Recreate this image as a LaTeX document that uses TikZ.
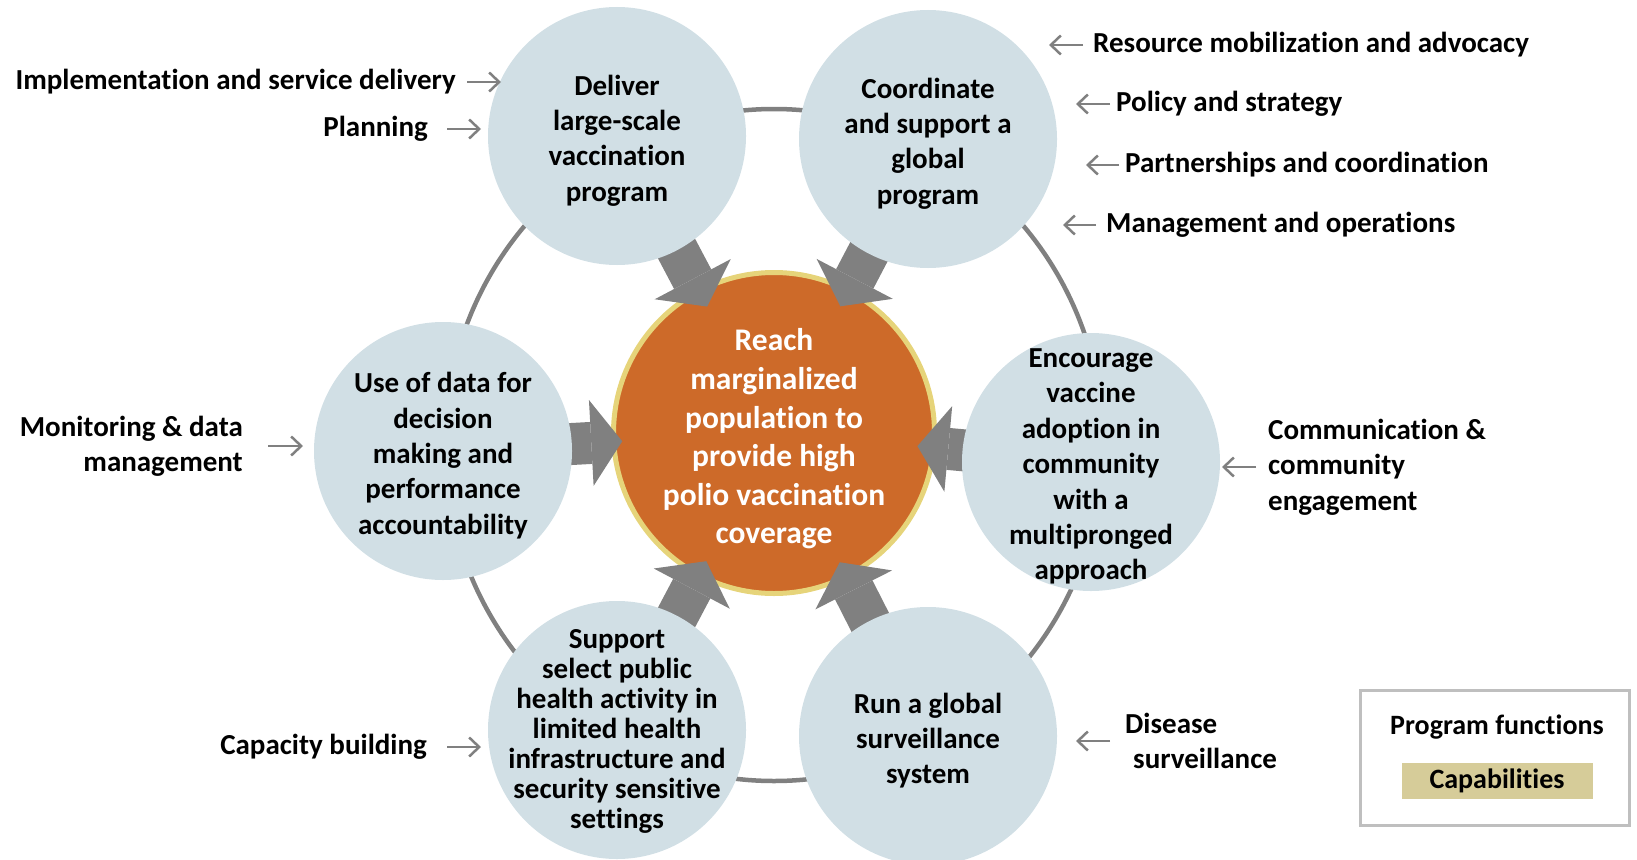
\documentclass[tikz,border=0pt]{standalone}
\usepackage{fontspec}
\setmainfont{Carlito}[Ligatures=NoCommon]
\usetikzlibrary{positioning,calc,arrows.meta}

\definecolor{bubblefill}{RGB}{209,223,229}
\definecolor{hubfill}{RGB}{205,106,41}
\definecolor{hubrim}{RGB}{230,212,122}
\definecolor{arrowgray}{RGB}{128,128,128}
\definecolor{capfill}{RGB}{214,204,153}
\definecolor{boxgray}{RGB}{191,191,191}

\pgfdeclarelayer{ring}
\pgfdeclarelayer{spokes}
\pgfsetlayers{ring,spokes,main}

\begin{document}
\begin{tikzpicture}[
  x=1pt, y=-1pt,
  bubble/.style={
        circle,
        fill=bubblefill,
        minimum size=258pt,
        inner sep=0pt
  },
  bubbletext/.style={
        inner sep=0pt,
        align=center,
        font=\fontsize{29}{35.4}\selectfont\bfseries
  },
  hubnode/.style={
        circle,
        fill=hubfill,
        draw=hubrim,
        line width=5pt,
        minimum size=321pt,
        inner sep=0pt
  },
  hubtext/.style={
        inner sep=0pt,
        align=center,
        text=white,
        font=\fontsize{31.5}{38.6}\selectfont\bfseries
  },
  sidetext/.style={
        inner sep=0pt,
        font=\fontsize{29}{35.4}\selectfont\bfseries
  },
  spoke/.style={
        draw=arrowgray,
        line width=42pt,
        -{Triangle[length=31pt,width=86pt,line width=0pt]}
  },
  sidearrow/.style={
        draw=arrowgray,
        line width=2.5pt,
        -{Straight Barb[length=10pt,width=19pt]}
  }
]

    \useasboundingbox (0,0) rectangle (1637,859);

    % ring and hub
    \begin{pgfonlayer}{ring}
    \draw[arrowgray, line width=4.5pt] (774,445) ellipse [x radius=329, y radius=336];
    \node[hubnode] (hub) at (774,433) {};
    \end{pgfonlayer}
    \node[hubtext] (goal) at ([yshift=-6pt]hub.center) {Reach\\marginalized\\population to\\provide high\\polio vaccination\\coverage};

    % program functions
    \node[bubble] (deliver) at (617,136) {};
    \node[bubble] (coord) at (928,139) {};
    \node[bubble] (usedata) at (443,451) {};
    \node[bubble] (encourage) at (1091,462) {};
    \node[bubble] (support) at (617,730) {};
    \node[bubble] (surveil) at (928,736) {};

    \node[bubbletext] (deliver-text) at ([yshift=-4.5pt]deliver.center) {Deliver\\large-scale\\vaccination\\program};
    \node[bubbletext] (coord-text) at ([yshift=-4.5pt]coord.center) {Coordinate\\and support a\\global\\program};
    \node[bubbletext] (usedata-text) at ([yshift=-4.5pt]usedata.center) {Use of data for\\decision\\making and\\performance\\accountability};
    \node[bubbletext] (encourage-text) at ([yshift=-4.5pt]encourage.center) {Encourage\\vaccine\\adoption in\\community\\with a\\multipronged\\approach};
    \node[bubbletext, font=\fontsize{29}{30}\selectfont\bfseries] (support-text) at ([yshift=-1pt]support.center) {Support\\select public\\health activity in\\limited health\\infrastructure and\\security sensitive\\settings};
    \node[bubbletext] (surveil-text) at ([yshift=-4.5pt]surveil.center) {Run a global\\surveillance\\system};

    \begin{pgfonlayer}{spokes}
    \foreach \n/\d in {deliver/143,coord/143,usedata/152,encourage/144,support/145,surveil/145}
        \draw[spoke] (\n.center) -- ($(hub.center)!\d pt!(\n.center)$);
    \end{pgfonlayer}

    % capabilities, left side
    \node[sidetext, anchor=east] (impl) at (456,82) {Implementation and service delivery};
    \node[sidetext, anchor=east] (plan) at (428,129) {Planning};
    \node[sidetext, anchor=east, align=right] (monitor) at (243,446) {Monitoring \& data\\management};
    \node[sidetext, anchor=east] (capacity) at (427,747) {Capacity building};

    \coordinate (impl-tip) at (501,82);
    \coordinate (plan-tip) at (481,129);
    \coordinate (monitor-tip) at (303,446);
    \coordinate (capacity-tip) at (481,747);

    % capabilities, right side
    \node[sidetext, anchor=west] (resource) at (1093,45) {Resource mobilization and advocacy};
    \node[sidetext, anchor=west] (policy) at (1116,104) {Policy and strategy};
    \node[sidetext, anchor=west] (partner) at (1125,165) {Partnerships and coordination};
    \node[sidetext, anchor=west] (manage) at (1106,225) {Management and operations};
    \node[sidetext, anchor=west, align=left] (comm) at (1268,467) {Communication \&\\community\\engagement};
    \node[sidetext, anchor=west, align=left] (disease) at (1125,741) {Disease\\\hspace*{8pt}surveillance};

    \coordinate (resource-tip) at (1049,45);
    \coordinate (policy-tip) at (1076,104);
    \coordinate (partner-tip) at (1086,165);
    \coordinate (manage-tip) at (1063,225);
    \coordinate (comm-tip) at (1222,467);
    \coordinate (disease-tip) at (1076,741);

    \foreach \lab/\gap in {impl/11,plan/19,monitor/25,capacity/20,resource/10,policy/6,partner/6,manage/10,comm/12,disease/15}
        \draw[sidearrow, shorten <=\gap pt] (\lab) -- (\lab-tip);

    % legend
    \node[draw=boxgray, line width=3pt, minimum width=269pt, minimum height=135pt] (legend) at (1495,758) {};
    \node[sidetext, font=\fontsize{28}{34}\selectfont\bfseries] (progfn) at (1497,727) {Program functions};
    \node[fill=capfill, minimum width=191pt, minimum height=36pt, inner sep=0pt,
          font=\fontsize{28}{34}\selectfont\bfseries] (capab) at (1497,781) {Capabilities};
\end{tikzpicture}
\end{document}
